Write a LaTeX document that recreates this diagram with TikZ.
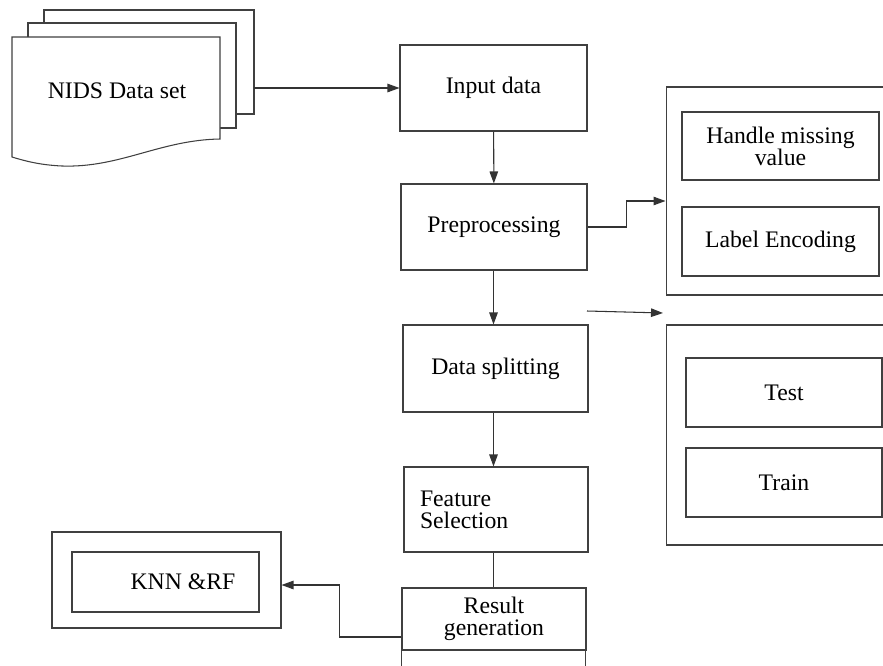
\documentclass[tikz,border=0pt]{standalone}
\usepackage{fontspec}
\setmainfont{Liberation Serif}
\usepackage{tikz}
\usetikzlibrary{arrows.meta}

\begin{document}
\begin{tikzpicture}[x=0.02cm, y=-0.02cm,
	line width=0.6pt,
	box/.style={draw=black!75, fill=white, font=\fontsize{13.5}{12.5}\selectfont, align=center, inner sep=0pt},
	frame/.style={draw=black!75, inner sep=0pt},
	arr/.style={draw=black!80, -{Triangle[length=2.4mm, width=1.7mm]}},
	link/.style={draw=black!80}]
	\useasboundingbox (0,0) rectangle (883,666);
	\clip (0,0) rectangle (883,666);

	% stack of sheets
	\draw [black!75, fill=white] (44,10) rectangle (254,114);
	\draw [black!75, fill=white] (28,23) rectangle (236,128);
	\draw [black!75, fill=white] (12,37) -- (220,37) -- (220,139)
		.. controls (160,140) and (120,168) .. (62,166)
		.. controls (40,165) and (25,161) .. (12,157) -- cycle;
	\node [font=\fontsize{13.5}{16}\selectfont] (nids) at (117,91) {NIDS Data set};
	\coordinate (stack) at (254,88);

	% main column
	\node [box, minimum width=3.74cm, minimum height=1.72cm] (input) at (493.5,88) {Input data};
	\node [box, minimum width=3.72cm, minimum height=1.72cm] (prep) at (494,227) {Preprocessing};
	\node [box, minimum width=3.70cm, minimum height=1.74cm] (split) at (495.5,368.5) {Data splitting};
	\node [box, minimum width=3.68cm, minimum height=1.70cm, text width=3.04cm, align=left, inner xsep=0.32cm] (feat) at (496,509.5) {Feature\\Selection};
	\node [box, minimum width=3.68cm, minimum height=1.24cm] (result) at (494,619) {Result\\generation};
	\draw [black!75] (result.south west) rectangle ++(3.68cm,-1cm);

	% preprocessing steps
	\node [frame, minimum width=4.68cm, minimum height=4.16cm] (prepbox) at (783,191) {};
	\node [box, minimum width=3.94cm, minimum height=1.36cm] (missing) at (780.5,146) {Handle missing\\value};
	\node [box, minimum width=3.94cm, minimum height=1.38cm] (encode) at (780.5,241.5) {Label Encoding};

	% splitting
	\node [frame, minimum width=4.58cm, minimum height=4.40cm] (splitbox) at (780.5,435) {};
	\node [box, minimum width=3.92cm, minimum height=1.38cm] (test) at (784,392.5) {Test};
	\node [box, minimum width=3.92cm, minimum height=1.38cm] (train) at (784,482.5) {Train};
	\coordinate (splitfrom) at (587,311);
	\coordinate (splitto) at (663,313);

	% models
	\node [frame, minimum width=4.58cm, minimum height=1.92cm] (modelbox) at (166.5,580) {};
	\node [box, minimum width=3.74cm, minimum height=1.20cm] (knn) at (165.5,582) {\hspace{0.7cm}KNN \&RF};

	% connectors
	\draw [arr] (stack) -- (input.west);
	\draw [arr] (input) -- (prep);
	\draw [arr] (prep.south -| input.south) -- (split.north -| input.south);
	\draw [arr] (split.south -| input.south) -- (feat.north -| input.south);
	\draw [link] (feat.south -| input.south) -- (result.north -| input.south);
	\draw [arr] (prep.east) -- ++(39,0) |- ([yshift=-0.2cm]prepbox.west);
	\draw [arr] (splitfrom) -- (splitto);
	\draw [arr] ([yshift=-0.36cm]result.west) -- ++(-62,0) |- ([yshift=-0.1cm]modelbox.east);
\end{tikzpicture}
\end{document}
